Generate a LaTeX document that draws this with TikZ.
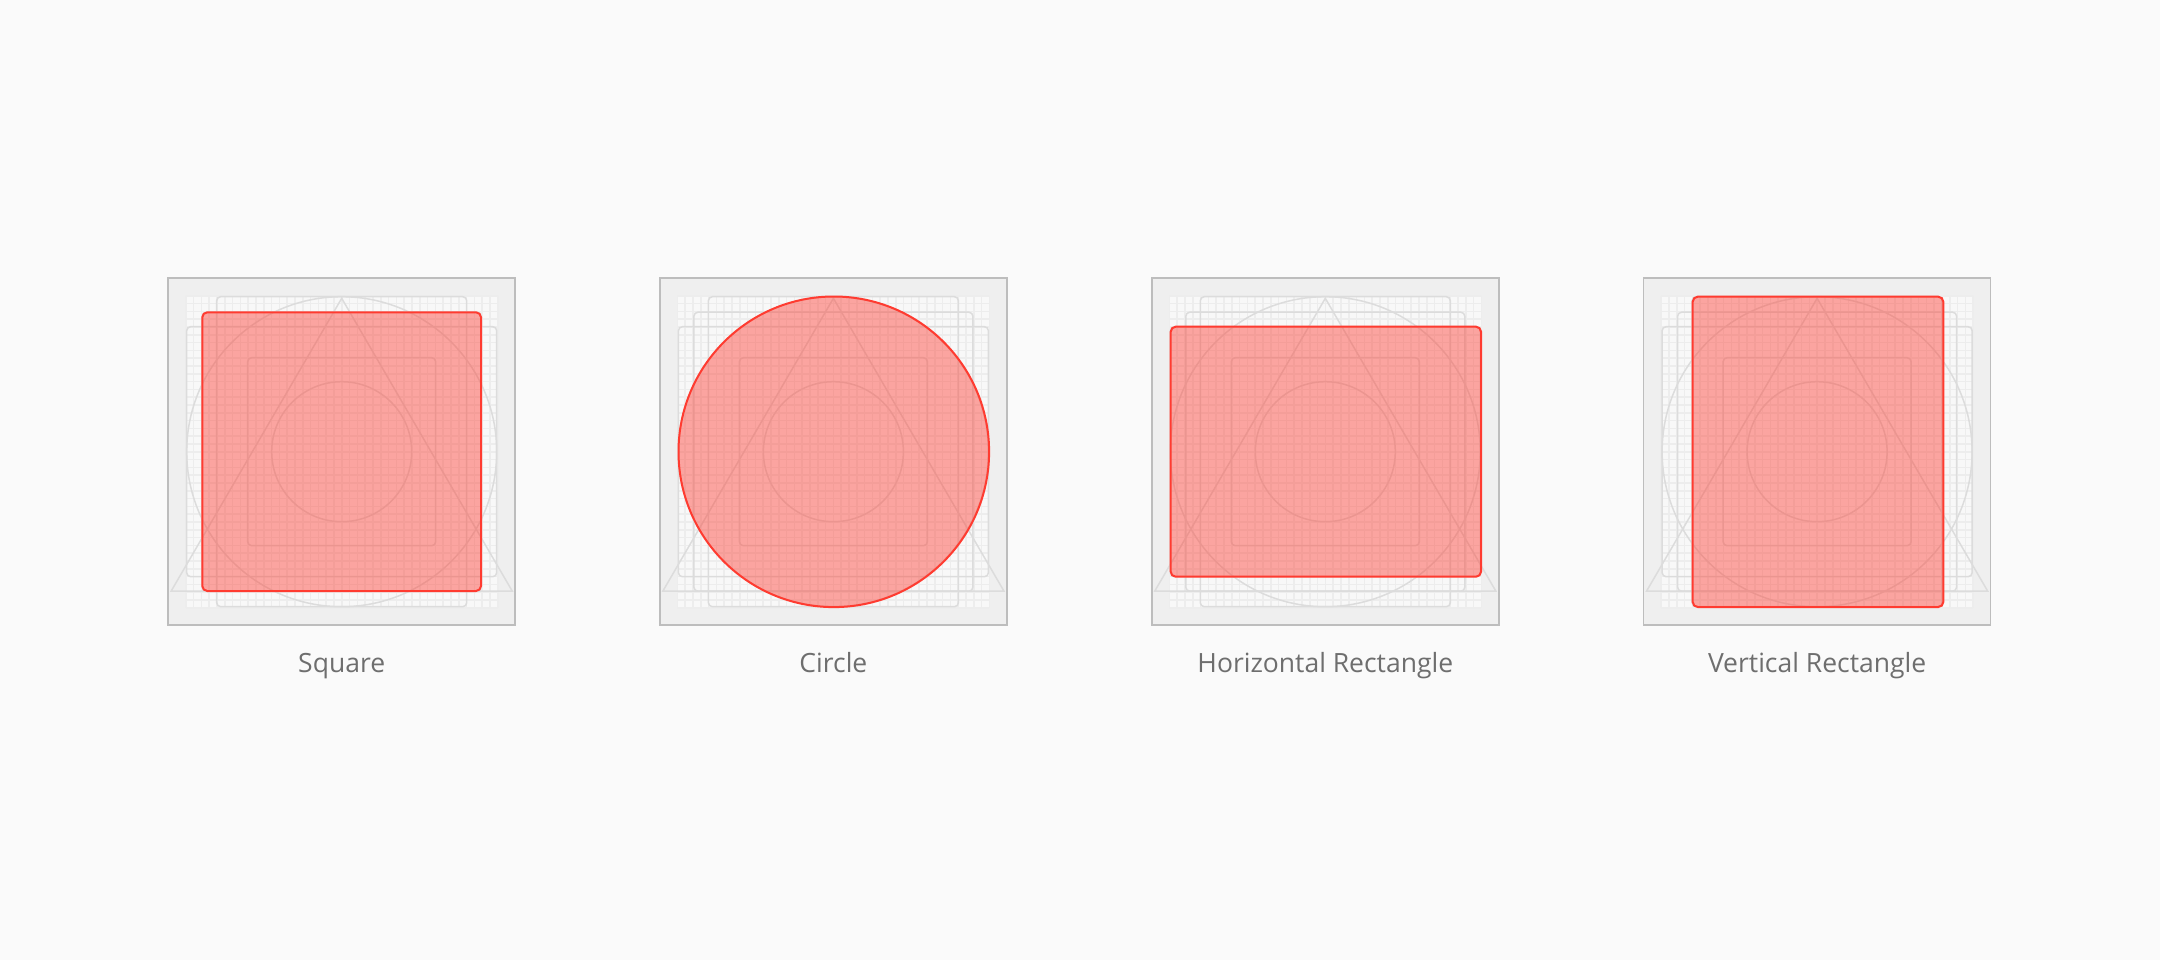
\documentclass[tikz,border=0pt]{standalone}
\usepackage{fontspec}
\setmainfont{Open Sans}
\usepackage{xcolor}
\usepackage{tikz}
\usetikzlibrary{positioning}

\definecolor{pagebg}{HTML}{FAFAFA}
\definecolor{framefill}{HTML}{EFEFEF}
\definecolor{framegray}{HTML}{BDBDBD}
\definecolor{cellfill}{HTML}{F8F8F8}
\definecolor{gridgray}{HTML}{EDEDED}
\definecolor{keygray}{HTML}{DCDCDC}
\definecolor{shapered}{HTML}{FF3B30}
\definecolor{labelgray}{HTML}{6E6E6E}

\tikzset{
  gridline/.style={draw=gridgray, line width=1.6pt},
  keyline/.style={draw=keygray, line width=1.5pt, rounded corners=4pt},
  redshape/.style={draw=shapered, line width=2pt, fill=shapered, fill opacity=0.44, rounded corners=5pt},
  caption/.style={text=labelgray, anchor=base, font=\fontsize{26.5}{30}\selectfont},
}

\begin{document}
\begin{tikzpicture}[x=1pt,y=-1pt]

\fill[pagebg] (0,0) rectangle (2160,960);
\useasboundingbox (0,0) rectangle (2160,960);

% frames, grid and keylines
\foreach \cx in {341.7,833.4,1325.3,1817.1} {
  \draw[framegray, fill=framefill, line width=1.5pt] (\cx-173.5,278.2) rectangle (\cx+173.5,625.2);
  \fill[cellfill] (\cx-156,295.7) rectangle (\cx+156,607.7);
  \foreach \i in {0,...,40} {
    \draw[gridline] (\cx-156+7.8*\i,295.7) -- (\cx-156+7.8*\i,607.7);
    \draw[gridline] (\cx-156,295.7+7.8*\i) -- (\cx+156,295.7+7.8*\i);
  }
  \draw[keyline] (\cx,451.7) circle[radius=155];
  \draw[keyline] (\cx,451.7) circle[radius=70];
  \draw[keyline] (\cx-139.5,312.2) rectangle (\cx+139.5,591.2);
  \draw[keyline] (\cx-125,296.7) rectangle (\cx+125,606.7);
  \draw[keyline] (\cx-155,326.7) rectangle (\cx+155,576.7);
  \draw[keyline] (\cx-94,357.7) rectangle (\cx+94,545.7);
  \draw[keyline, rounded corners=0pt] (\cx,298.3) -- (\cx+170.5,591) -- (\cx-170.5,591) -- cycle;
}

% shapes
\draw[redshape] (202.3,312.3) rectangle (481,591);
\draw[redshape] (833.8,451.8) circle[radius=155.3];
\draw[redshape] (1170.7,326.7) rectangle (1481,576.7);
\draw[redshape] (1692.7,296.7) rectangle (1943.3,607);

\node[caption] (square) at (341.7,672) {Square};
\node[caption] (circle) at (833.4,672) {Circle};
\node[caption] (hrect) at (1325.3,672) {Horizontal Rectangle};
\node[caption] (vrect) at (1817.1,672) {Vertical Rectangle};
\end{tikzpicture}
\end{document}
